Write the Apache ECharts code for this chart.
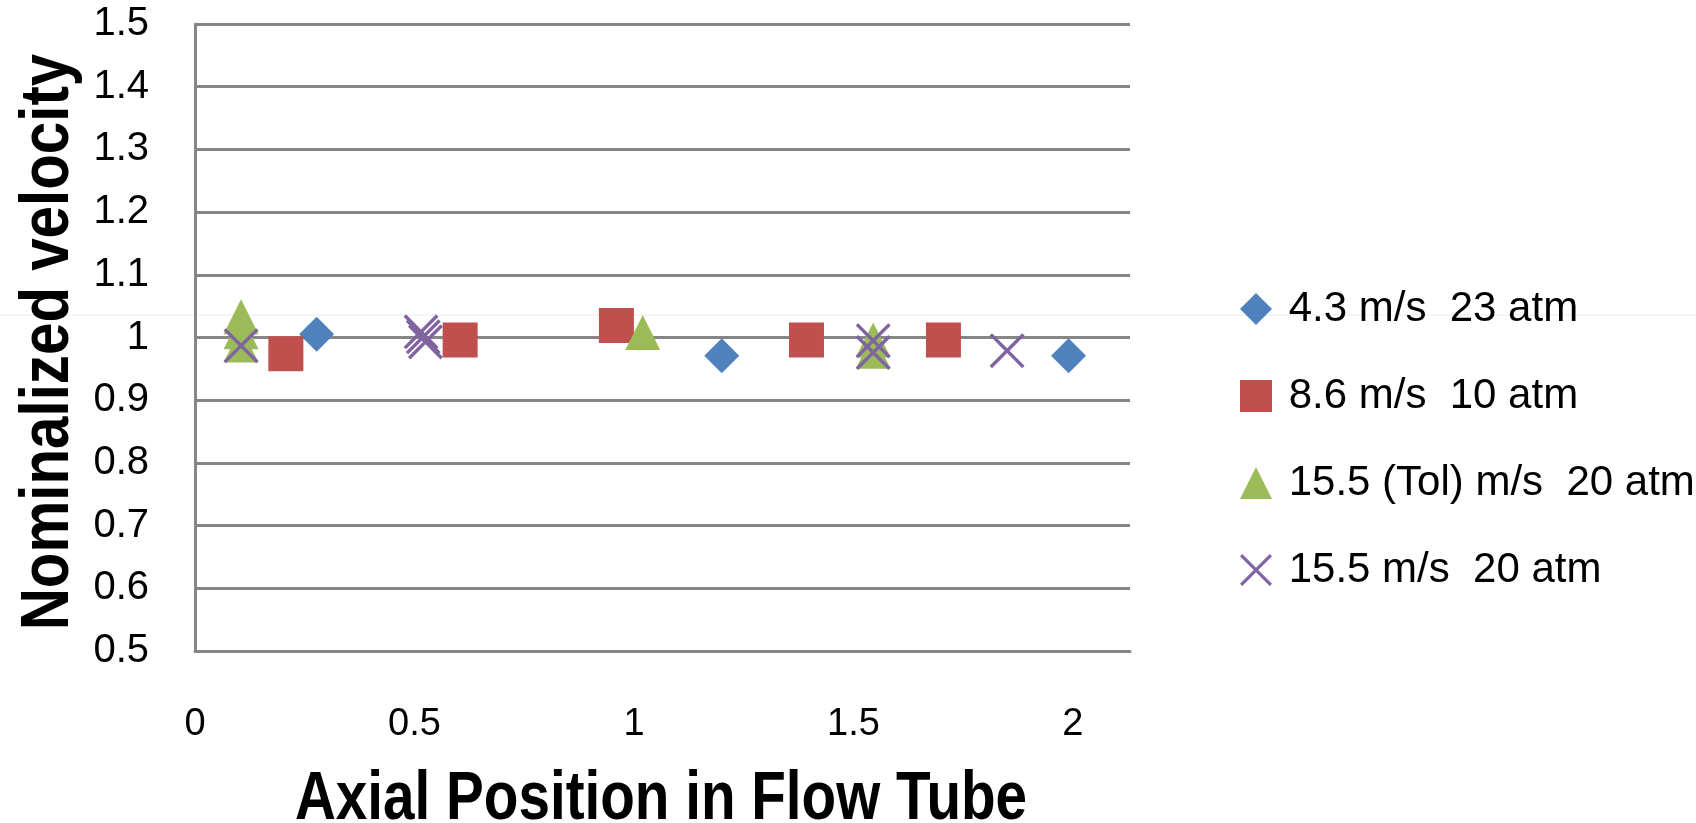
<!DOCTYPE html>
<html><head><meta charset="utf-8">
<script src="https://cdn.jsdelivr.net/npm/echarts@6/dist/echarts.min.js"></script>
<style>html,body{margin:0;padding:0;background:#fff}#c{width:1696px;height:823px}</style>
</head><body><div id="c"></div>
<script>
// Series names
const seriesNames = ['4.3 m/s  23 atm', '8.6 m/s  10 atm', '15.5 (Tol) m/s  20 atm', '15.5 m/s  20 atm'];
// 4.3 m/s 23 atm
const blueX = [0.277, 1.20, 1.99];
const blueY = [1.005, 0.971, 0.971];
// 8.6 m/s 10 atm
const redX = [0.207, 0.604, 0.96, 1.393, 1.705];
const redY = [0.974, 0.996, 1.019, 0.996, 0.996];
// 15.5 (Tol) m/s 20 atm
const greenX = [0.105, 0.105, 0.105, 1.02, 1.545, 1.545];
const greenY = [1.033, 1.009, 0.988, 1.008, 0.996, 0.978];
// 15.5 m/s 20 atm
const purpleX = [0.105, 0.515, 0.52, 0.525, 1.545, 1.545, 1.85];
const purpleY = [0.987, 1.009, 1.001, 0.993, 0.995, 0.976, 0.979];
// axis ticks and titles
const yTicks = [0.5, 0.6, 0.7, 0.8, 0.9, 1, 1.1, 1.2, 1.3, 1.4, 1.5];
const xTicks = [0, 0.5, 1, 1.5, 2];
const xTitle = 'Axial Position in Flow Tube';
const yTitle = 'Nominalized velocity';

const pair = (xs, ys) => xs.map((x, i) => [x, ys[i]]);
const colors = ['#4F81BD', '#C0504D', '#9BBB59', '#8064A2'];
const xPath = 'path://M0,7 L7,0 L50,43 L93,0 L100,7 L57,50 L100,93 L93,100 L50,57 L7,100 L0,93 L43,50 Z';
const symbols = ['diamond', 'rect', 'triangle', xPath];
const datasets = [pair(blueX, blueY), pair(redX, redY), pair(greenX, greenY), pair(purpleX, purpleY)];

const chart = echarts.init(document.getElementById('c'), null, {renderer: 'canvas'});
const gridColor = '#868686';
const titleFont = "bold 68px 'Liberation Sans', sans-serif";
chart.setOption({
  animation: false,
  backgroundColor: '#ffffff',
  grid: {left: 195, right: 566, top: 24, bottom: 172, containLabel: false, outerBoundsMode: 'none'},
  xAxis: {
    type: 'value', min: 0, max: 2.13, interval: 0.5,
    axisLine: {show: true, onZero: false, lineStyle: {color: gridColor, width: 3}},
    axisTick: {show: false},
    splitLine: {show: false},
    axisLabel: {margin: 55, showMaxLabel: false, fontFamily: "'Liberation Sans', sans-serif", fontSize: 38, color: '#000',
      formatter: v => xTicks.includes(v) ? String(v) : ''}
  },
  yAxis: {
    type: 'value', min: 0.5, max: 1.5, interval: 0.1,
    axisLine: {show: true, lineStyle: {color: gridColor, width: 3}},
    axisTick: {show: false},
    splitLine: {show: true, lineStyle: {color: gridColor, width: 3}},
    axisLabel: {margin: 46, fontFamily: "'Liberation Sans', sans-serif", fontSize: 40, color: '#000',
      formatter: v => { const t = yTicks.find(k => Math.abs(k - v) < 1e-6); return t === undefined ? '' : String(t); }}
  },
  legend: {
    orient: 'vertical', left: 1235, top: 283, itemWidth: 32, itemHeight: 32, itemGap: 45,
    textStyle: {fontFamily: "'Liberation Sans', sans-serif", fontSize: 42, color: '#000', lineHeight: 40},
    formatter: n => ' ' + n,
    data: seriesNames.map((n, i) => ({name: n, icon: symbols[i]}))
  },
  graphic: [
    {type: 'line', z: -10, shape: {x1: 0, y1: 315, x2: 1696, y2: 315}, style: {stroke: '#e4edf7', lineWidth: 1}},
    {type: 'text', x: 661, y: 800, scaleX: 0.833, style: {text: xTitle, font: titleFont, fill: '#000', align: 'center', verticalAlign: 'middle'}},
    {type: 'text', x: 49, y: 342, rotation: Math.PI / 2, scaleX: 0.857, style: {text: yTitle, font: titleFont, fill: '#000', align: 'center', verticalAlign: 'middle'}}
  ],
  series: datasets.map((d, i) => ({
    name: seriesNames[i], type: 'scatter', data: d,
    symbol: symbols[i], symbolSize: 35,
    itemStyle: {color: colors[i], opacity: 1}
  }))
});
</script></body></html>
